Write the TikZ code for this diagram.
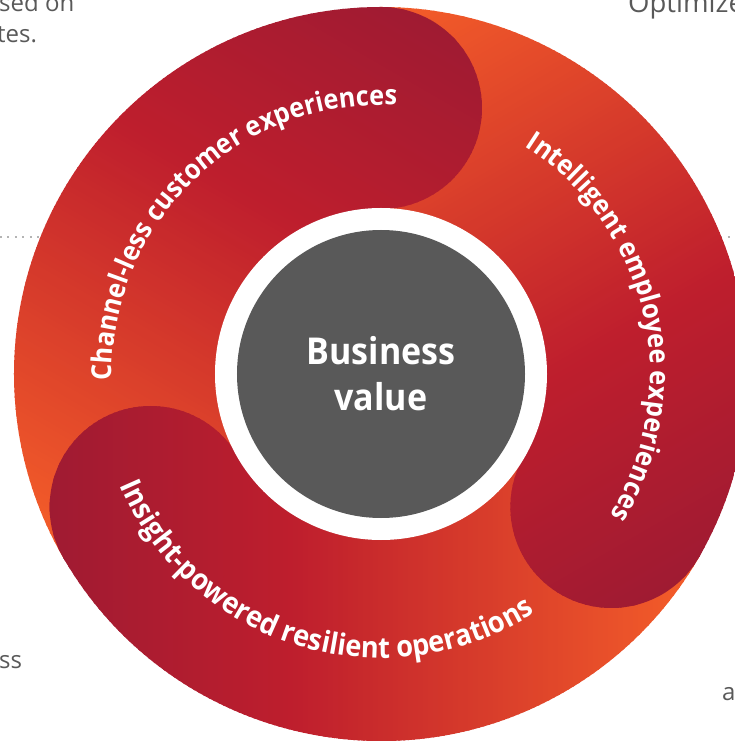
\documentclass[tikz,border=0pt]{standalone}
\usepackage{fontspec}
\setmainfont{Open Sans}
\newfontfamily\condfont{Open Sans}[FakeStretch=0.92]
\usetikzlibrary{decorations.text}
\definecolor{crim}{HTML}{9B1A33}
\definecolor{midred}{HTML}{BE1E2D}
\definecolor{orng}{HTML}{F15A29}
\definecolor{centergray}{HTML}{595959}
\definecolor{sidegray}{HTML}{595959}
\definecolor{dotgray}{HTML}{B4B4B4}
\newcommand\mygradfill{%
  \foreach \i in {0,...,149}{%
    \pgfmathsetmacro\gpa{max(0,min(100,(-372+5*\i+367)/277*100))}%
    \pgfmathsetmacro\gpb{max(0,min(100,(-372+5*\i+90)/380*100))}%
    \colorlet{tmpA}{midred!\gpa!crim}%
    \colorlet{tmpB}{orng!\gpb!tmpA}%
    \fill[tmpB] (-372.6+5*\i,-375) rectangle (-366.4+5*\i,375);
  }}
\newcommand\arcfmt{\color{white}\condfont\bfseries\fontsize{27.5}{30}\selectfont}
\newcommand\arcfmtb{\color{white}\condfont\bfseries\fontsize{29.5}{32}\selectfont}
\tikzset{
  sidetext/.style={anchor=base west, inner sep=0pt, text=sidegray, font=\fontsize{24}{28}\selectfont},
  centertext/.style={text=white, align=center, font=\condfont\bfseries\fontsize{37}{46}\selectfont},
  dotline/.style={dotgray, line width=2pt, dash pattern=on 2pt off 5.5pt}
}
\begin{document}
\begin{tikzpicture}[x=1pt,y=1pt]
\useasboundingbox (-381,-367) rectangle (354,374);
\clip (-381,-367) rectangle (354,374);
% dotted guide line
\coordinate (dl) at (-381,137);
\coordinate (dr) at (354,137);
\draw[dotline] (dl) -- (dr);
% side text fragments
\node[sidetext] (t1) at (-382,362) {sed on};
\node[sidetext] (t2) at (-384,331) {tes.};
\node[sidetext, font=\fontsize{27.5}{30}\selectfont] (t3) at (247,361) {Optimize};
\node[sidetext] (t4) at (-382,-294) {ss};
\node[sidetext] (t5) at (341,-326) {a};
% band bodies
\foreach \k in {0,1,2}{
  \begin{scope}[rotate=-120*\k]
    \clip (210:367) arc[start angle=210, end angle=330, radius=367]
      -- (330:165) arc[start angle=330, end angle=210, radius=165] -- cycle;
    \mygradfill
  \end{scope}
}
% band heads (round caps)
\foreach \k in {0,1,2}{
  \begin{scope}[rotate=-120*\k]
    \clip (210:266) circle[radius=101];
    \mygradfill
  \end{scope}
}
% centre
\fill[white] (0,0) circle[radius=166];
\node[circle, fill=centergray, minimum size=288pt, inner sep=0pt] (core) at (0,0) {};
\node[centertext] (bv) at (0,0) {Business\\value};
% arc labels
\path[decorate, decoration={text along path, text align=center,
  text={|\arcfmt|Channel-less customer experiences}}]
  (200:269) arc[start angle=200, end angle=68, radius=269];
\path[decorate, decoration={text along path, text align=center,
  text={|\arcfmt|Intelligent employee experiences}}]
  (79:269) arc[start angle=79, end angle=-53, radius=269];
\path[decorate, decoration={text along path, text align=center,
  text={|\arcfmtb|Insight-powered resilient operations}}]
  (187:284) arc[start angle=187, end angle=319, radius=284];
\end{tikzpicture}
\end{document}
